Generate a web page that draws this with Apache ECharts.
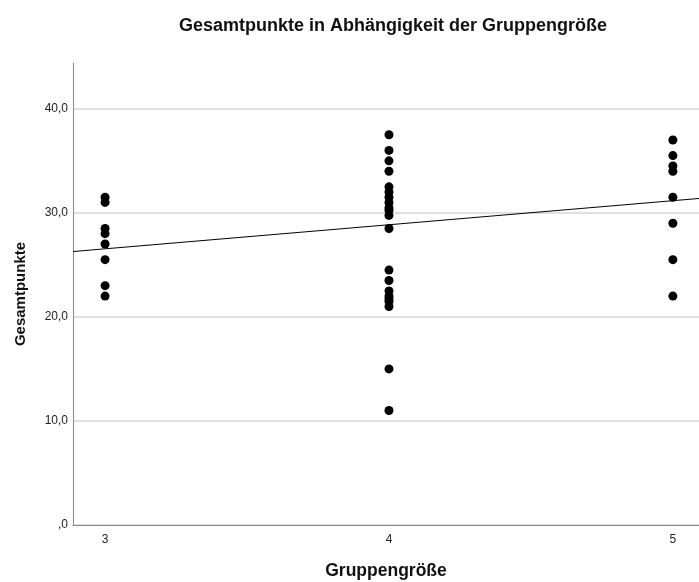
<!DOCTYPE html>
<html><head><meta charset="utf-8">
<script src="https://cdn.jsdelivr.net/npm/echarts@6/dist/echarts.min.js"></script>
<style>html,body{margin:0;padding:0;background:#fff}#c{width:699px;height:582px}</style>
</head><body><div id="c"></div>
<script>
const groupSizes = [3, 4, 5];
const pointsGroup3 = [31.5, 31, 28.5, 28, 27, 25.5, 23, 22];
const pointsGroup4 = [37.5, 36, 35, 34, 32.5, 32, 31.5, 31, 30.5, 30.25, 29.75, 28.5, 24.5, 23.5, 22.5, 22, 21.75, 21.5, 21, 15, 11];
const pointsGroup5 = [37, 35.5, 34.5, 34, 31.5, 29, 25.5, 22];
const fitLineX = [2.887, 5.092];
const fitLineY = [26.28, 31.38];
const yTicks = [0, 10, 20, 30, 40];

const scatter = [];
[pointsGroup3, pointsGroup4, pointsGroup5].forEach((arr, i) => arr.forEach(v => scatter.push([groupSizes[i], v])));
const fit = fitLineX.map((x, i) => [x, fitLineY[i]]);
const fontFam = '"Liberation Sans", Arial, sans-serif';

const chart = echarts.init(document.getElementById('c'));
chart.setOption({
  animation: false,
  title: {
    text: 'Gesamtpunkte in Abhängigkeit der Gruppengröße',
    left: 388, top: 12, textAlign: 'center',
    textStyle: { fontFamily: fontFam, fontSize: 18, fontWeight: 'bold', color: '#111' }
  },
  grid: { left: 73, top: 63, right: 0, bottom: 57, outerBoundsMode: 'none', containLabel: false },
  xAxis: {
    type: 'value', min: 2.887, max: 5.092,
    name: 'Gruppengröße', nameLocation: 'middle', nameGap: 37,
    nameTextStyle: { fontFamily: fontFam, fontSize: 17.5, fontWeight: 'bold', color: '#111' },
    axisLine: { show: true, lineStyle: { color: '#888', width: 1 } },
    axisTick: { show: false, customValues: groupSizes },
    axisLabel: { customValues: groupSizes, margin: 9, fontFamily: fontFam, fontSize: 12, color: '#222', formatter: v => String(v) },
    splitLine: { show: false }
  },
  yAxis: {
    type: 'value', min: 0, max: 44.4,
    name: 'Gesamtpunkte', nameLocation: 'middle', nameGap: 45, nameRotate: 90,
    nameTextStyle: { fontFamily: fontFam, fontSize: 15, fontWeight: 'bold', color: '#111' },
    axisLine: { show: true, lineStyle: { color: '#888', width: 1 } },
    axisTick: { show: false, customValues: yTicks },
    axisLabel: { customValues: yTicks, margin: 5, fontFamily: fontFam, fontSize: 12, color: '#222',
      formatter: v => v === 0 ? ',0' : v.toFixed(1).replace('.', ',') },
    splitLine: { show: true, lineStyle: { color: '#d4d4d4', width: 1.5 } }
  },
  series: [
    { type: 'scatter', data: scatter, symbolSize: 9, itemStyle: { color: '#000', opacity: 1 }, z: 3 },
    { type: 'line', data: fit, showSymbol: false, symbol: 'none', lineStyle: { color: '#000', width: 1 }, z: 2 }
  ]
});
</script></body></html>
